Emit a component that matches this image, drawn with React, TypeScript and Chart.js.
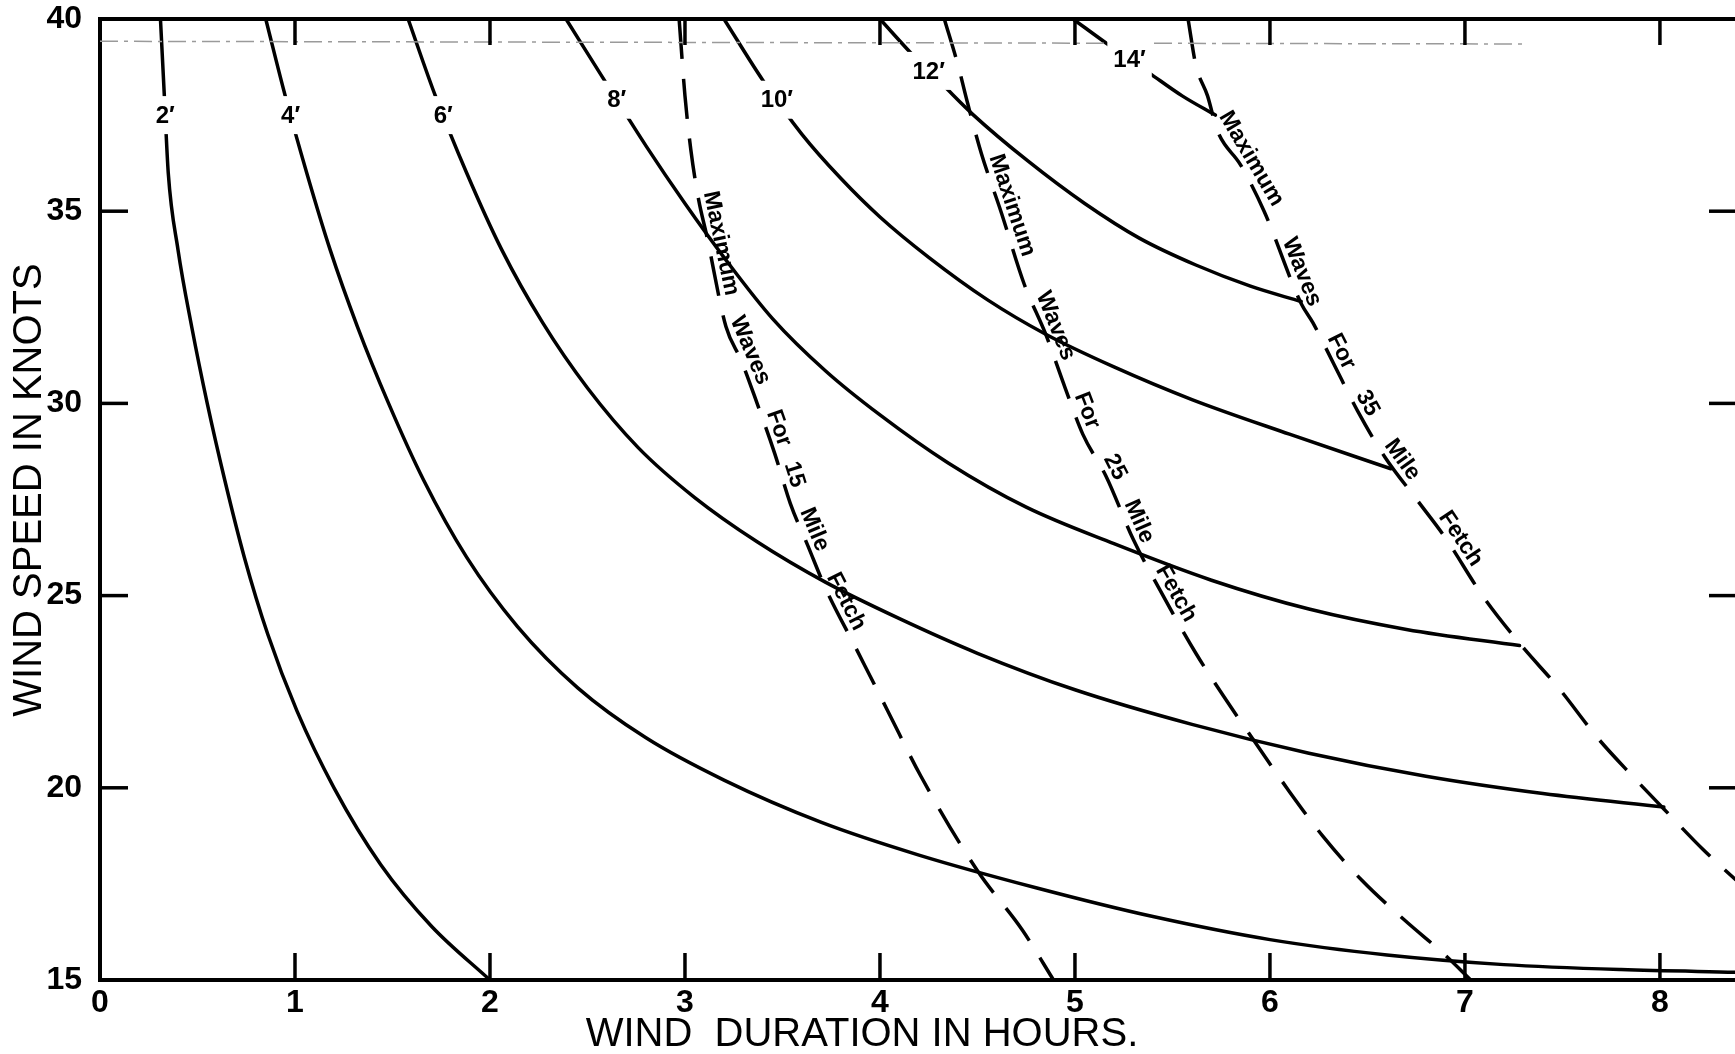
import React, { useEffect, useRef } from "react";
import { Chart, registerables } from "chart.js";

Chart.register(...registerables);

// ---------- axis values ----------
const xMinHours = 0;
const xMaxHours = 8.385;
const yMinKnots = 15;
const yMaxKnots = 40;
const innerTickHours = [1, 2, 3, 4, 5, 6, 7, 8];
const innerTickKnots = [20, 25, 30, 35];
const xTitle = "WIND  DURATION IN HOURS.";
const yTitle = "WIND SPEED IN KNOTS";

// ---------- wave-height curves (hours, knots) ----------
const wave2Hours = [0.31, 0.33, 0.35, 0.4, 0.47, 0.55, 0.64, 0.74, 0.86, 1.01, 1.2, 1.44, 1.7, 2.0];
const wave2Knots = [40, 38.0, 36.0, 34.0, 32.0, 30.0, 28.0, 26.0, 24.0, 22.0, 20.0, 18.0, 16.4, 15.0];

const wave4Hours = [0.85, 0.95, 1.06, 1.18, 1.32, 1.48, 1.66, 1.88, 2.14, 2.45, 2.8, 3.2, 3.7, 4.2, 4.8, 5.4, 6.0, 6.6, 7.2, 7.8, 8.39];
const wave4Knots = [40, 38.0, 36.0, 34.0, 32.0, 30.0, 28.0, 26.0, 24.2, 22.6, 21.3, 20.2, 19.1, 18.25, 17.4, 16.65, 16.05, 15.65, 15.4, 15.27, 15.2];

const wave6Hours = [1.58, 1.72, 1.88, 2.06, 2.27, 2.5, 2.76, 3.05, 3.37, 3.72, 4.1, 4.5, 5.0, 5.6, 6.2, 6.8, 7.4, 8.02];
const wave6Knots = [40, 38.0, 36.0, 34.0, 32.1, 30.4, 28.85, 27.55, 26.4, 25.35, 24.4, 23.5, 22.55, 21.65, 20.9, 20.3, 19.85, 19.5];

const wave8Hours = [2.39, 2.6, 2.8, 3.0, 3.2, 3.45, 3.72, 4.0, 4.35, 4.75, 5.2, 5.7, 6.2, 6.7, 7.28];
const wave8Knots = [40, 38.3, 36.7, 35.2, 33.8, 32.2, 30.85, 29.7, 28.45, 27.3, 26.35, 25.4, 24.65, 24.12, 23.7];

const wave10Hours = [3.2, 3.4, 3.6, 3.8, 4.0, 4.25, 4.55, 4.85, 5.2, 5.6, 6.1, 6.62];
const wave10Knots = [40, 38.4, 37.0, 35.85, 34.85, 33.8, 32.7, 31.8, 30.95, 30.1, 29.2, 28.3];

const wave12Hours = [4.0, 4.18, 4.32, 4.48, 4.76, 5.05, 5.33, 5.62, 5.9, 6.16];
const wave12Knots = [40, 39.0, 38.3, 37.5, 36.3, 35.2, 34.3, 33.6, 33.05, 32.65];

const wave14Hours = [4.99, 5.18, 5.38, 5.55, 5.72];
const wave14Knots = [40, 39.3, 38.6, 38.0, 37.5];

const waveLabels = ["2′", "4′", "6′", "8′", "10′", "12′", "14′"];
const waveLabelKnots = [37.5, 37.5, 37.5, 37.9, 37.9, 38.65, 38.95];

// ---------- maximum-wave (fetch) lines ----------
const fetch15Hours = [2.97, 3.0, 3.03, 3.07, 3.11, 3.21, 3.29, 3.37, 3.46, 3.54, 3.63, 3.72, 3.88, 4.04, 4.21, 4.5, 4.73, 4.89];
const fetch15Knots = [40, 38.0, 36.6, 35.3, 34.4, 32.0, 31.1, 30.0, 28.7, 27.4, 26.3, 25.2, 23.6, 22.0, 20.3, 17.84, 16.3, 15.0];
const fetch15Words = ["Maximum", "Waves", "For", "15", "Mile", "Fetch"];
const fetch15WordKnots = [34.1, 31.25, 29.25, 28.05, 26.6, 24.7];

const fetch25Hours = [4.33, 4.4, 4.45, 4.52, 4.62, 4.74, 4.85, 4.95, 5.04, 5.16, 5.3, 5.43, 5.62, 5.76, 5.93, 6.1, 6.27, 6.47, 6.69, 6.9, 7.03];
const fetch25Knots = [40, 38.8, 37.8, 36.5, 35.0, 33.1, 31.8, 30.4, 29.2, 28.1, 26.45, 25.2, 23.5, 22.4, 21.14, 19.9, 18.75, 17.6, 16.56, 15.64, 15.0];
const fetch25Words = ["Maximum", "Waves", "For", "25", "Mile", "Fetch"];
const fetch25WordKnots = [35.05, 31.9, 29.7, 28.2, 26.8, 24.9];

const fetch35Hours = [5.58, 5.62, 5.68, 5.73, 5.85, 5.97, 6.16, 6.22, 6.33, 6.45, 6.59, 6.76, 6.9, 7.09, 7.29, 7.48, 7.68, 7.86, 8.02, 8.22, 8.39];
const fetch35Knots = [40, 38.8, 38.0, 37.1, 36.2, 35.0, 32.6, 32.1, 31.0, 29.8, 28.6, 27.45, 26.5, 25.0, 23.7, 22.6, 21.3, 20.3, 19.45, 18.4, 17.6];
const fetch35Words = ["Maximum", "Waves", "For", "35", "Mile", "Fetch"];
const fetch35WordKnots = [36.2, 33.3, 31.2, 29.85, 28.35, 26.3];

// faint scanned guide line near the top
const guideHours = [0, 7.3];
const guideKnots = [39.42, 39.35];

const FONT = '"Liberation Sans", Arial, Helvetica, sans-serif';
const PLOT_TOP = 19;
const PLOT_LEFT = 100;
const PLOT_BOTTOM = 980;

const curves = [
  [wave2Hours, wave2Knots],
  [wave4Hours, wave4Knots],
  [wave6Hours, wave6Knots],
  [wave8Hours, wave8Knots],
  [wave10Hours, wave10Knots],
  [wave12Hours, wave12Knots],
  [wave14Hours, wave14Knots],
];
const fetches: [number[], number[], string[], number[]][] = [
  [fetch15Hours, fetch15Knots, fetch15Words, fetch15WordKnots],
  [fetch25Hours, fetch25Knots, fetch25Words, fetch25WordKnots],
  [fetch35Hours, fetch35Knots, fetch35Words, fetch35WordKnots],
];

const toPoints = (h: number[], k: number[]) => h.map((v, i) => ({ x: v, y: k[i] }));

function hoursAt(hours: number[], knots: number[], k: number): number {
  for (let i = 0; i < knots.length - 1; i++) {
    const k0 = knots[i];
    const k1 = knots[i + 1];
    if ((k - k0) * (k - k1) <= 0 && k0 !== k1) {
      const t = (k - k0) / (k1 - k0);
      return hours[i] + t * (hours[i + 1] - hours[i]);
    }
  }
  return hours[hours.length - 1];
}

const annotatePlugin = {
  id: "annotate",
  afterDatasetsDraw(chart: any) {
    const { ctx, chartArea: ca } = chart;
    const xs = chart.scales.x;
    const ys = chart.scales.y;
    const X = (h: number) => xs.getPixelForValue(h);
    const Y = (k: number) => ys.getPixelForValue(k);
    const seg = (x1: number, y1: number, x2: number, y2: number) => {
      ctx.beginPath();
      ctx.moveTo(x1, y1);
      ctx.lineTo(x2, y2);
      ctx.stroke();
    };
    ctx.save();
    ctx.strokeStyle = "#000";
    ctx.fillStyle = "#000";
    ctx.lineCap = "butt";

    // top frame line
    ctx.lineWidth = 4;
    seg(ca.left - 2, ca.top, ca.right, ca.top);

    // inward tick marks
    ctx.lineWidth = 3.5;
    innerTickHours.forEach((h) => {
      const px = X(h);
      seg(px, ca.bottom, px, ca.bottom - 27);
      seg(px, ca.top, px, ca.top + 26);
    });
    innerTickKnots.forEach((k) => {
      const py = Y(k);
      seg(ca.left, py, ca.left + 28, py);
      seg(ca.right - 26, py, ca.right, py);
    });

    // wave height labels on the curves (with a gap in the line)
    ctx.font = `bold 24px ${FONT}`;
    ctx.textAlign = "center";
    ctx.textBaseline = "middle";
    curves.forEach(([h, k], i) => {
      const kk = waveLabelKnots[i];
      const px = X(hoursAt(h, k, kk));
      const py = Y(kk);
      const tw = ctx.measureText(waveLabels[i]).width;
      ctx.fillStyle = "#fff";
      ctx.fillRect(px - tw / 2 - 6, py - 19, tw + 12, 38);
      ctx.fillStyle = "#000";
      ctx.fillText(waveLabels[i], px, py + 1);
    });

    // words along the maximum-wave lines
    ctx.font = `bold 23px ${FONT}`;
    ctx.textAlign = "center";
    ctx.textBaseline = "alphabetic";
    fetches.forEach(([h, k, words, wk]) => {
      words.forEach((w, i) => {
        const kk = wk[i];
        const x0 = X(hoursAt(h, k, kk + 0.4));
        const y0 = Y(kk + 0.4);
        const x1 = X(hoursAt(h, k, kk - 0.4));
        const y1 = Y(kk - 0.4);
        const ang = Math.atan2(y1 - y0, x1 - x0);
        const px = X(hoursAt(h, k, kk));
        const py = Y(kk);
        ctx.save();
        ctx.translate(px, py);
        ctx.rotate(ang);
        ctx.fillText(w, 0, -6);
        ctx.restore();
      });
    });

    // axis titles
    ctx.font = `40px ${FONT}`;
    ctx.textAlign = "center";
    ctx.textBaseline = "middle";
    ctx.fillText(xTitle, 862, 1035);
    ctx.save();
    ctx.translate(30, 490);
    ctx.rotate(-Math.PI / 2);
    ctx.fillText(yTitle, 0, 0);
    ctx.restore();

    ctx.restore();
  },
};

// pin the plot area to the reference frame
const frameLayoutPlugin = {
  id: "frameLayout",
  afterLayout(chart: any) {
    const ca = chart.chartArea;
    ca.top = PLOT_TOP;
    ca.left = PLOT_LEFT;
    ca.bottom = PLOT_BOTTOM;
    ca.right = chart.width;
    ca.width = ca.right - ca.left;
    ca.height = ca.bottom - ca.top;
    const xs = chart.scales.x;
    const ys = chart.scales.y;
    xs.left = ca.left;
    xs.right = ca.right;
    xs.width = ca.width;
    xs.top = ca.bottom;
    xs.bottom = chart.height;
    xs.height = xs.bottom - xs.top;
    ys.top = ca.top;
    ys.bottom = ca.bottom;
    ys.height = ca.height;
    ys.left = 0;
    ys.right = ca.left;
    ys.width = ca.left;
    xs.configure();
    ys.configure();
  },
};

export default function App() {
  const ref = useRef<HTMLCanvasElement>(null);

  useEffect(() => {
    const canvas = ref.current;
    if (!canvas) return;

    const solid = (h: number[], k: number[]) => ({
      data: toPoints(h, k),
      borderColor: "#000",
      borderWidth: 3.5,
      pointRadius: 0,
      fill: false,
      cubicInterpolationMode: "monotone" as const,
      borderCapStyle: "round" as const,
    });
    const dashed = (h: number[], k: number[]) => ({
      data: toPoints(h, k),
      borderColor: "#000",
      borderWidth: 3.5,
      pointRadius: 0,
      fill: false,
      borderDash: [40, 20],
      cubicInterpolationMode: "monotone" as const,
      borderCapStyle: "butt" as const,
    });

    const datasets: any[] = [
      {
        data: toPoints(guideHours, guideKnots),
        borderColor: "#9a9a9a",
        borderWidth: 1.5,
        borderDash: [18, 6, 4, 6],
        pointRadius: 0,
        fill: false,
      },
      ...curves.map(([h, k]) => solid(h, k)),
      ...fetches.map(([h, k]) => dashed(h, k)),
    ];

    const tickFont = { family: FONT, size: 32, weight: "bold" as const };

    const chart = new Chart(canvas, {
      type: "line",
      data: { datasets },
      options: {
        animation: false,
        responsive: false,
        devicePixelRatio: 1,
        events: [],
        layout: { autoPadding: false, padding: { top: PLOT_TOP, right: 0, left: 0, bottom: 0 } },
        plugins: { legend: { display: false }, tooltip: { enabled: false } },
        scales: {
          x: {
            type: "linear",
            min: xMinHours,
            max: xMaxHours,
            grid: { display: false },
            border: { display: true, color: "#000", width: 4 },
            ticks: {
              stepSize: 1,
              includeBounds: false,
              autoSkip: false,
              maxRotation: 0,
              color: "#000",
              font: tickFont,
              padding: -4,
              callback: (v: any) => String(v),
            },
            afterFit: (s: any) => {
              s.height = 74;
            },
          },
          y: {
            type: "linear",
            min: yMinKnots,
            max: yMaxKnots,
            grid: { display: false },
            border: { display: true, color: "#000", width: 4 },
            ticks: {
              stepSize: 5,
              includeBounds: false,
              color: "#000",
              font: tickFont,
              padding: 10,
              callback: (v: any) => String(v),
            },
            afterFit: (s: any) => {
              s.width = 100;
            },
          },
        },
      },
      plugins: [frameLayoutPlugin, annotatePlugin],
    } as any);

    return () => chart.destroy();
  }, []);

  return (
    <div style={{ position: "fixed", left: 0, top: 0, width: 1735, height: 1054, background: "#fff" }}>
      <canvas ref={ref} width={1735} height={1054} style={{ display: "block", width: 1735, height: 1054 }} />
    </div>
  );
}
